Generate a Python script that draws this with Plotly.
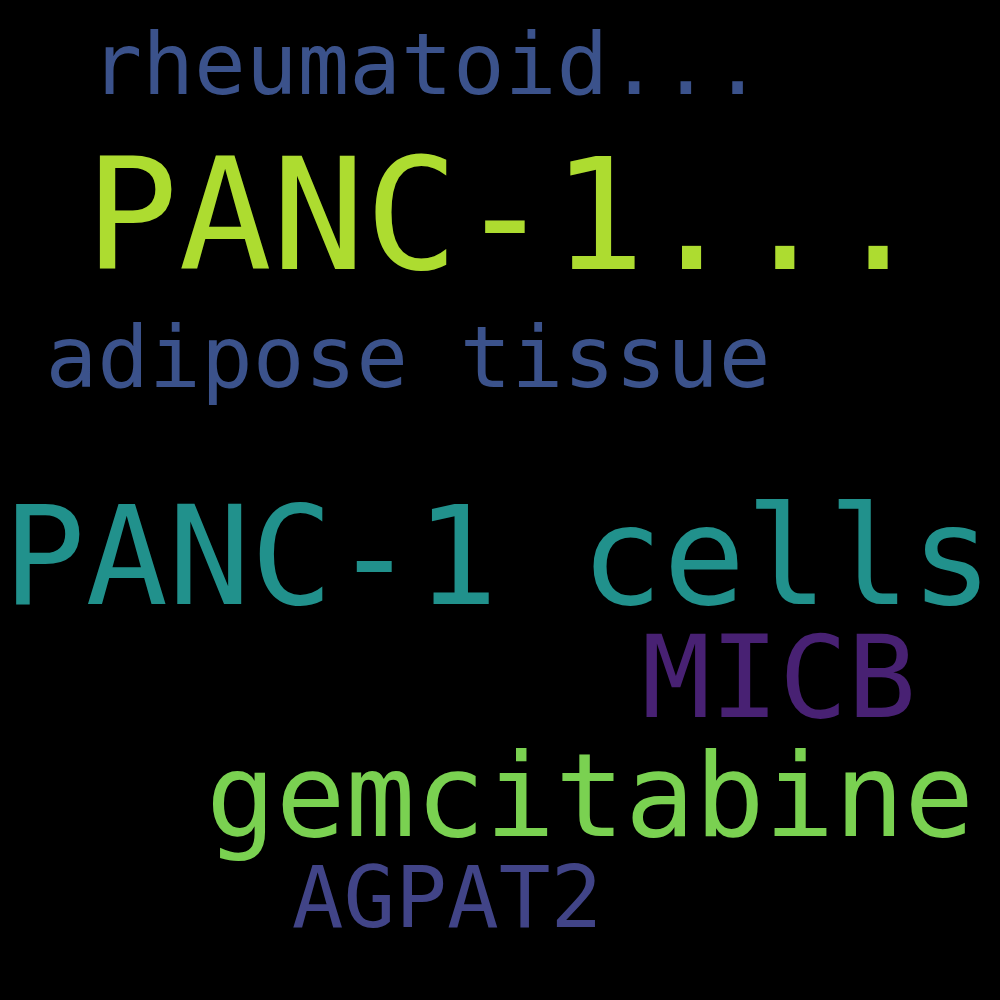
import plotly.graph_objects as go

# words, in the order of the cloud
words = ["rheumatoid...", "PANC-1...", "adipose tissue", "PANC-1 cells",
         "MICB", "gemcitabine", "AGPAT2"]
sizes = [86, 155, 86, 137, 114, 116, 86]
colors = ["#3b528b", "#addc30", "#3b528b", "#21918c",
          "#482173", "#7ad151", "#414487"]
# centre x and baseline y, in pixels of the 1000x1000 canvas
x_pos = [427, 505, 408, 498, 779, 590, 447]
baseline = [97, 274, 390, 608, 720, 839, 930]

fig = go.Figure()
for w, s, c, x, b in zip(words, sizes, colors, x_pos, baseline):
    # 'middle center' puts the baseline about 0.28 em under the anchor
    fig.add_trace(go.Scatter(
        x=[x], y=[b - 0.28 * s],
        mode="text",
        text=[w],
        textposition="middle center",
        textfont=dict(family="DejaVu Sans Mono", size=s, color=c),
        hoverinfo="skip",
        showlegend=False))

fig.update_xaxes(range=[0, 1000], visible=False, fixedrange=True)
fig.update_yaxes(range=[1000, 0], visible=False, fixedrange=True)
fig.update_layout(
    width=1000, height=1000,
    margin=dict(l=0, r=0, t=0, b=0),
    paper_bgcolor="black",
    plot_bgcolor="black")

# no white page border round the canvas
fig.write_html("out.html",
               config={"displayModeBar": False},
               post_script="document.body.style.margin='0';"
                           "document.body.style.overflow='hidden';"
                           "document.body.style.background='black';")
